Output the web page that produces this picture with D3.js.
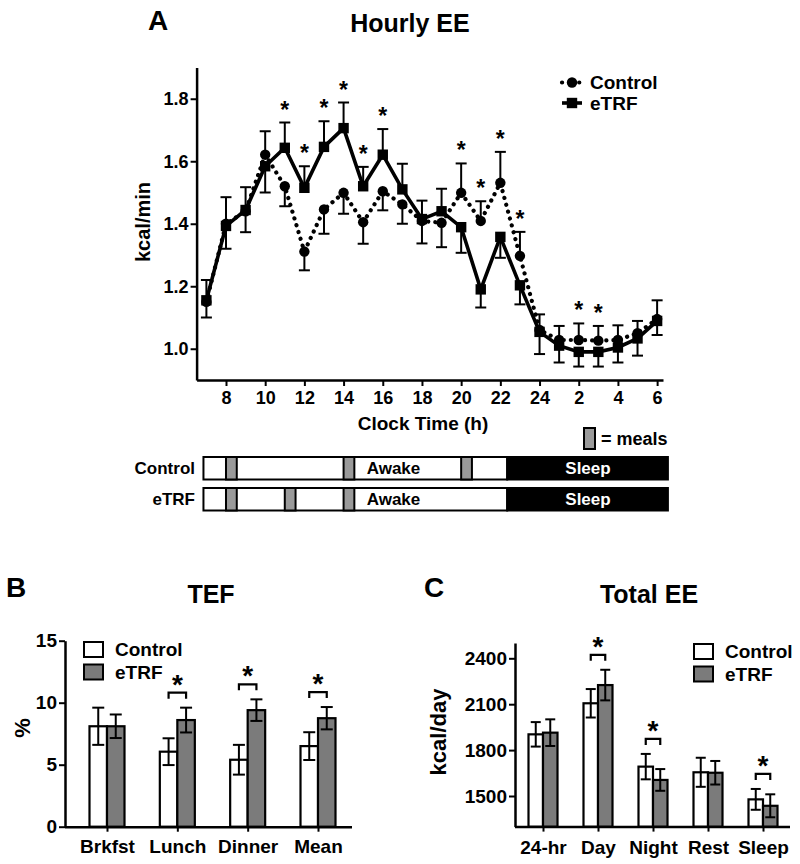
<!DOCTYPE html>
<html>
<head>
<meta charset="utf-8">
<script src="https://cdn.jsdelivr.net/npm/d3@7"></script>
<style>
body { margin: 0; background: white; }
text { font-family: "Liberation Sans", Arial, sans-serif; font-weight: bold; }
</style>
</head>
<body>
<script>
// Hourly EE (kcal/min), clock hour 7..30 (25-30 = 1am-6am next day)
var hours = [7, 8, 9, 10, 11, 12, 13, 14, 15, 16, 17, 18, 19, 20, 21, 22, 23, 24, 25, 26, 27, 28, 29, 30];
var ctrlMean = [1.15, 1.40, 1.44, 1.621, 1.52, 1.311, 1.446, 1.499, 1.405, 1.504, 1.462, 1.409, 1.403, 1.499, 1.409, 1.531, 1.297, 1.06, 1.028, 1.028, 1.026, 1.028, 1.05, 1.095];
var ctrlSem = [0.05, 0.085, 0.067, 0.075, 0.064, 0.06, 0.078, 0.067, 0.069, 0.061, 0.062, 0.072, 0.078, 0.094, 0.063, 0.099, 0.077, 0.05, 0.045, 0.053, 0.047, 0.047, 0.039, 0.06];
var etrfMean = [1.155, 1.393, 1.444, 1.584, 1.643, 1.515, 1.646, 1.706, 1.52, 1.621, 1.51, 1.415, 1.44, 1.389, 1.19, 1.358, 1.203, 1.054, 1.01, 0.99, 0.99, 1.004, 1.033, 1.089];
var etrfSem = [0.065, 0.073, 0.073, 0.084, 0.081, 0.069, 0.082, 0.082, 0.062, 0.082, 0.082, 0.059, 0.072, 0.082, 0.058, 0.067, 0.061, 0.071, 0.054, 0.047, 0.047, 0.048, 0.055, 0.045];
var starHours = [11, 12, 13, 14, 15, 16, 20, 21, 22, 23, 26, 27];
var xTicksA = [8, 10, 12, 14, 16, 18, 20, 22, 24, 26, 28, 30];
var yTicksA = [1.0, 1.2, 1.4, 1.6, 1.8];

// meal schedule (clock hours)
var dayStart = 6.85, dayEnd = 30.55, sleepStart = 22.35, mealLen = 0.55;
var schedRows = ['Control', 'eTRF'];
var ctrlMeals = [8, 14, 20];
var etrfMeals = [8, 11, 14];

// TEF (%)
var tefCats = ['Brkfst', 'Lunch', 'Dinner', 'Mean'];
var tefCtrl = [8.1, 6.05, 5.4, 6.5];
var tefCtrlErr = [1.5, 1.08, 1.2, 1.12];
var tefEtrf = [8.1, 8.6, 9.4, 8.75];
var tefEtrfErr = [0.95, 1.0, 0.87, 0.9];
var tefSig = ['Lunch', 'Dinner', 'Mean'];
var tefTicks = [0, 5, 10, 15];

// Total EE (kcal/day)
var teeCats = ['24-hr', 'Day', 'Night', 'Rest', 'Sleep'];
var teeCtrl = [1903, 2106, 1692, 1655, 1478];
var teeCtrlErr = [80, 93, 83, 95, 68];
var teeEtrf = [1914, 2225, 1605, 1652, 1436];
var teeEtrfErr = [87, 100, 71, 77, 75];
var teeSig = ['Day', 'Night', 'Sleep'];
var teeTicks = [1500, 1800, 2100, 2400];

var barGray = '#7b7b7b';
var mealGray = '#9a9a9a';

var svg = d3.select('body')
  .append('svg')
    .attr('width', 800)
    .attr('height', 864);

function styleAxis(g, fs) {
  g.attr('font-family', null).attr('font-size', null);
  g.select('.domain').attr('stroke-width', 2.5);
  g.selectAll('.tick line').attr('stroke-width', 2);
  g.selectAll('.tick text')
    .attr('font-size', fs)
    .attr('fill', 'black');
}

function label(x, y, str, size, anchor, rot) {
  var t = svg.append('text')
    .attr('x', x)
    .attr('y', y)
    .attr('font-size', size)
    .attr('text-anchor', anchor || 'start')
    .text(str);
  if (rot) t.attr('transform', 'rotate(' + rot + ',' + x + ',' + y + ')');
  return t;
}

// ================= Panel A =================
var xA = d3.scaleLinear().domain([6.5, 30.3]).range([196.6, 663]);
var yA = d3.scaleLinear().domain([0.9, 1.9]).range([380, 67.5]);

label(148, 30, 'A', 28);
label(410, 32, 'Hourly EE', 25, 'middle');

svg.append('g')
  .attr('transform', 'translate(0,380)')
  .call(d3.axisBottom(xA).tickValues(xTicksA).tickSize(6).tickSizeOuter(0).tickPadding(5)
    .tickFormat(function(h) { return h > 24 ? h - 24 : h; }))
  .call(styleAxis, 18);

svg.append('g')
  .attr('transform', 'translate(196.6,0)')
  .call(d3.axisLeft(yA).tickValues(yTicksA).tickSize(6).tickSizeOuter(0).tickPadding(2)
    .tickFormat(d3.format('.1f')))
  .call(styleAxis, 18);

label(150, 222, 'kcal/min', 20, 'middle', -90);
label(423, 430, 'Clock Time (h)', 19, 'middle');

var lineA = d3.line()
  .x(function(d, i) { return xA(hours[i]); })
  .y(function(d) { return yA(d); });

svg.append('path')
  .datum(ctrlMean)
  .attr('d', lineA)
  .attr('fill', 'none')
  .attr('stroke', 'black')
  .attr('stroke-width', 4.2)
  .attr('stroke-linecap', 'round')
  .attr('stroke-dasharray', '0.1 7');

svg.append('path')
  .datum(etrfMean)
  .attr('d', lineA)
  .attr('fill', 'none')
  .attr('stroke', 'black')
  .attr('stroke-width', 3.6)
  .attr('stroke-linejoin', 'miter');

// error bars go away from the other series (higher one up, lower one down)
var errA = [];
hours.forEach(function(h, i) {
  var ctrlUp = ctrlMean[i] > etrfMean[i];
  errA.push({h: h, v: ctrlMean[i], end: ctrlMean[i] + (ctrlUp ? ctrlSem[i] : -ctrlSem[i])});
  errA.push({h: h, v: etrfMean[i], end: etrfMean[i] + (ctrlUp ? -etrfSem[i] : etrfSem[i])});
});

var errG = svg.append('g').attr('stroke', 'black').attr('stroke-width', 2);
errG.selectAll('.v').data(errA).enter().append('line')
  .attr('x1', function(d) { return xA(d.h); })
  .attr('x2', function(d) { return xA(d.h); })
  .attr('y1', function(d) { return yA(d.v); })
  .attr('y2', function(d) { return yA(d.end); });
errG.selectAll('.c').data(errA).enter().append('line')
  .attr('x1', function(d) { return xA(d.h) - 5.5; })
  .attr('x2', function(d) { return xA(d.h) + 5.5; })
  .attr('y1', function(d) { return yA(d.end); })
  .attr('y2', function(d) { return yA(d.end); });

svg.selectAll('.ctrlPt').data(ctrlMean).enter().append('circle')
  .attr('cx', function(d, i) { return xA(hours[i]); })
  .attr('cy', function(d) { return yA(d); })
  .attr('r', 5.2)
  .attr('fill', 'black');

svg.selectAll('.etrfPt').data(etrfMean).enter().append('rect')
  .attr('x', function(d, i) { return xA(hours[i]) - 5.2; })
  .attr('y', function(d) { return yA(d) - 5.2; })
  .attr('width', 10.4)
  .attr('height', 10.4)
  .attr('fill', 'black');

svg.selectAll('.starA').data(starHours).enter().append('text')
  .attr('x', function(h) { return xA(h); })
  .attr('y', function(h) {
    var i = hours.indexOf(h);
    var top = ctrlMean[i] > etrfMean[i] ? ctrlMean[i] + ctrlSem[i] : etrfMean[i] + etrfSem[i];
    return yA(top) - 5;
  })
  .attr('font-size', 23)
  .attr('text-anchor', 'middle')
  .text('*');

// legend A
svg.append('line').attr('x1', 562).attr('x2', 582).attr('y1', 82.5).attr('y2', 82.5)
  .attr('stroke', 'black').attr('stroke-width', 4.2).attr('stroke-linecap', 'round').attr('stroke-dasharray', '0.1 8.5');
svg.append('circle').attr('cx', 572).attr('cy', 82.5).attr('r', 5.2);
svg.append('line').attr('x1', 562).attr('x2', 582).attr('y1', 103).attr('y2', 103)
  .attr('stroke', 'black').attr('stroke-width', 3.6);
svg.append('rect').attr('x', 566.8).attr('y', 97.8).attr('width', 10.4).attr('height', 10.4);
label(590, 89, 'Control', 19);
label(590, 110, 'eTRF', 19);

// schedule bars
var rowY = [457, 488];
var rowH = 22.5;
var meals = [ctrlMeals, etrfMeals];

schedRows.forEach(function(name, r) {
  var y0 = rowY[r];
  svg.append('rect')
    .attr('x', xA(dayStart)).attr('y', y0)
    .attr('width', xA(sleepStart) - xA(dayStart)).attr('height', rowH)
    .attr('fill', 'white').attr('stroke', 'black').attr('stroke-width', 2);
  svg.append('rect')
    .attr('x', xA(sleepStart)).attr('y', y0)
    .attr('width', xA(dayEnd) - xA(sleepStart)).attr('height', rowH)
    .attr('fill', 'black').attr('stroke', 'black').attr('stroke-width', 2);
  svg.selectAll('.meal' + r).data(meals[r]).enter().append('rect')
    .attr('x', function(d) { return xA(d); })
    .attr('y', y0)
    .attr('width', xA(mealLen) - xA(0))
    .attr('height', rowH)
    .attr('fill', mealGray)
    .attr('stroke', 'black')
    .attr('stroke-width', 2);
  label(195, y0 + rowH / 2 + 6, name, 17, 'end');
  label(393.5, y0 + rowH / 2 + 6, 'Awake', 17, 'middle');
  label(588, y0 + rowH / 2 + 6, 'Sleep', 17, 'middle').attr('fill', 'white');
});

svg.append('rect').attr('x', 584).attr('y', 428).attr('width', 11).attr('height', 21)
  .attr('fill', mealGray).attr('stroke', 'black').attr('stroke-width', 2);
label(601, 445, '= meals', 18);

// ================= bar panels =================
function barPanel(opt) {
  var x = d3.scalePoint().domain(opt.cats).range(opt.xr);
  var y = d3.scaleLinear().domain(opt.yd).range(opt.yr);
  var bw = opt.bw;

  label(opt.letterX, 597, opt.letter, 28);
  label(opt.titleX, 603, opt.title, 25, 'middle');

  svg.append('g')
    .attr('transform', 'translate(0,' + opt.yr[0] + ')')
    .call(d3.axisBottom(x).tickSize(5).tickSizeOuter(0).tickPadding(opt.xPad))
    .call(styleAxis, 19)
    .select('.domain').attr('d', 'M' + opt.axisX[0] + ',0.5H' + opt.axisX[1]);

  svg.append('g')
    .attr('transform', 'translate(' + opt.axisX[0] + ',0)')
    .call(d3.axisLeft(y).tickValues(opt.ticks).tickSize(6).tickSizeOuter(0).tickPadding(2)
      .tickFormat(d3.format('d')))
    .call(styleAxis, 19);

  label(opt.yLabX, opt.yLabY, opt.yLab, opt.yLabSize, 'middle', -90);

  var series = [
    {vals: opt.ctrl, err: opt.ctrlErr, fill: 'white', off: -bw},
    {vals: opt.etrf, err: opt.etrfErr, fill: barGray, off: 0}
  ];

  series.forEach(function(s) {
    var g = svg.append('g');
    g.selectAll('rect').data(opt.cats).enter().append('rect')
      .attr('x', function(c) { return x(c) + s.off; })
      .attr('y', function(c, i) { return y(s.vals[i]); })
      .attr('width', bw)
      .attr('height', function(c, i) { return opt.yr[0] - y(s.vals[i]); })
      .attr('fill', s.fill)
      .attr('stroke', 'black')
      .attr('stroke-width', 2.2);
    var e = svg.append('g').attr('stroke', 'black').attr('stroke-width', 2);
    opt.cats.forEach(function(c, i) {
      var cx = x(c) + s.off + bw / 2;
      var hi = y(s.vals[i] + s.err[i]), lo = y(s.vals[i] - s.err[i]);
      e.append('line').attr('x1', cx).attr('x2', cx).attr('y1', hi).attr('y2', lo);
      e.append('line').attr('x1', cx - opt.cap).attr('x2', cx + opt.cap).attr('y1', hi).attr('y2', hi);
      e.append('line').attr('x1', cx - opt.cap).attr('x2', cx + opt.cap).attr('y1', lo).attr('y2', lo);
    });
  });

  // significance brackets
  var bg = svg.append('g').attr('stroke', 'black').attr('stroke-width', 2.2).attr('fill', 'none');
  opt.sig.forEach(function(c) {
    var i = opt.cats.indexOf(c);
    var top = Math.max(opt.ctrl[i] + opt.ctrlErr[i], opt.etrf[i] + opt.etrfErr[i]);
    var by = y(top) - 15;
    var x1 = x(c) - bw / 2, x2 = x(c) + bw / 2;
    bg.append('path').attr('d', 'M' + x1 + ',' + (by + 6) + 'V' + by + 'H' + x2 + 'V' + (by + 6));
    label(x(c), by + 1, '*', 28, 'middle');
  });

  // legend
  ['Control', 'eTRF'].forEach(function(name, k) {
    svg.append('rect')
      .attr('x', opt.legX).attr('y', opt.legY + k * 22.5)
      .attr('width', 19).attr('height', 15)
      .attr('fill', k === 0 ? 'white' : barGray)
      .attr('stroke', 'black').attr('stroke-width', 2);
    label(opt.legX + 31, opt.legY + 14 + k * 22.5, name, 19);
  });
}

barPanel({
  cats: tefCats, ctrl: tefCtrl, ctrlErr: tefCtrlErr, etrf: tefEtrf, etrfErr: tefEtrfErr,
  sig: tefSig, ticks: tefTicks,
  xr: [107, 318], yd: [0, 15], yr: [826.7, 640.7], axisX: [65, 352], bw: 17.5, cap: 6, xPad: 8,
  letter: 'B', letterX: 6, title: 'TEF', titleX: 211,
  yLab: '%', yLabX: 30, yLabY: 728, yLabSize: 22,
  legX: 84, legY: 642
});

barPanel({
  cats: teeCats, ctrl: teeCtrl, ctrlErr: teeCtrlErr, etrf: teeEtrf, etrfErr: teeEtrfErr,
  sig: teeSig, ticks: teeTicks,
  xr: [543, 763], yd: [1300, 2500], yr: [826.6, 643], axisX: [515, 790], bw: 14.5, cap: 5, xPad: 9,
  letter: 'C', letterX: 424, title: 'Total EE', titleX: 649,
  yLab: 'kcal/day', yLabX: 446, yLabY: 732, yLabSize: 22,
  legX: 694, legY: 644
});
</script>
</body>
</html>
